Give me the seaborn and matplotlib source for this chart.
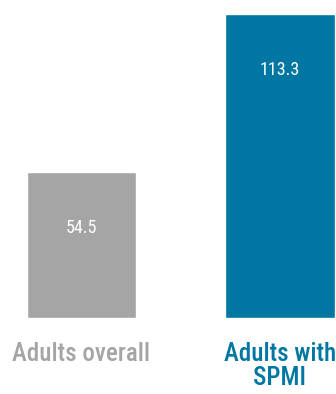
import matplotlib
matplotlib.use("Agg")
import matplotlib.pyplot as plt
import pandas as pd
import seaborn as sns

categories = ["Adults overall", "Adults with\nSPMI"]
values = [54.5, 113.3]
value_labels = ["54.5", "113.3"]
colors = ["#a5a5a5", "#0077a2"]


def main():
    df = pd.DataFrame({"group": categories, "value": values})

    sns.set_theme(style="white")
    plt.rcParams["font.family"] = ["Roboto Condensed", "DejaVu Sans"]

    fig = plt.figure(figsize=(3.36, 3.94), dpi=100)
    fig.patch.set_facecolor("white")
    ax = fig.add_axes([0, 76 / 394, 1, (318 - 14) / 394])

    sns.barplot(
        data=df,
        x="group",
        y="value",
        hue="group",
        palette=colors,
        width=0.55,
        saturation=1,
        legend=False,
        ax=ax,
    )

    ax.set_xlim(-81.5 / 198.5, (336 - 81.5) / 198.5)
    ax.set_ylim(0, max(values))
    ax.set_xlabel("")
    ax.set_ylabel("")
    ax.set_yticks([])
    sns.despine(ax=ax, left=True, bottom=True)

    # value labels sit a fixed distance below each bar top
    for i, (v, lab) in enumerate(zip(values, value_labels)):
        ax.annotate(
            lab,
            xy=(i, v),
            xytext=(0, -56 * 72 / 100),
            textcoords="offset points",
            ha="center",
            va="center",
            color="white",
            fontsize=13,
        )

    ax.tick_params(axis="x", length=0, pad=17, labelsize=18)
    for tick, c in zip(ax.get_xticklabels(), colors):
        tick.set_color(c)
        tick.set_fontweight("medium")
        tick.set_linespacing(1.0)

    fig.savefig("out.png", dpi=100, facecolor="white")
    plt.close(fig)


if __name__ == "__main__":
    main()
